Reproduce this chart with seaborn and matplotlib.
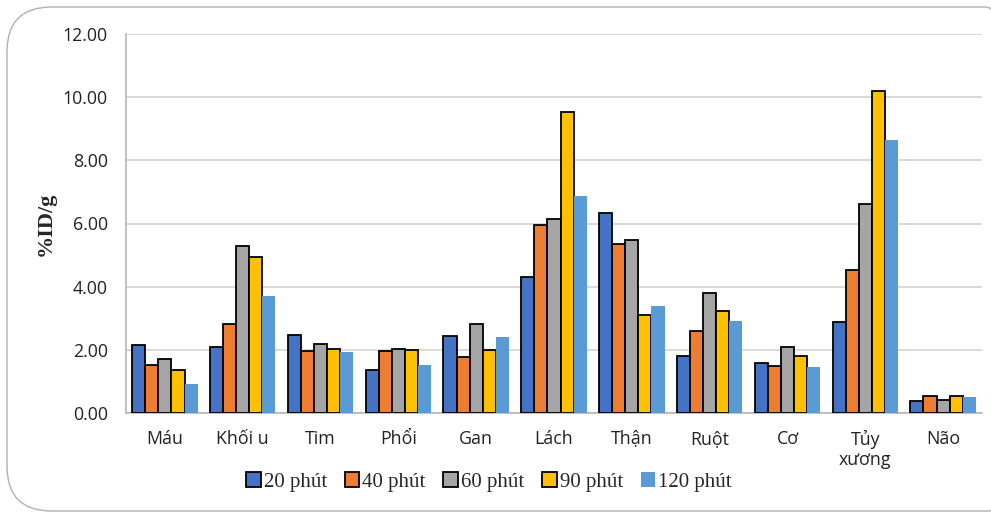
import matplotlib
matplotlib.use("Agg")
import matplotlib.pyplot as plt
from matplotlib.patches import FancyBboxPatch, Patch
import seaborn as sns
import pandas as pd

categories = ["Máu", "Khối u", "Tim", "Phổi", "Gan", "Lách", "Thận", "Ruột", "Cơ", "Tủy\nxương", "Não"]
series = ["20 phút", "40 phút", "60 phút", "90 phút", "120 phút"]
v20 = [2.15, 2.09, 2.47, 1.36, 2.44, 4.30, 6.32, 1.80, 1.58, 2.87, 0.37]
v40 = [1.52, 2.82, 1.96, 1.96, 1.77, 5.94, 5.36, 2.59, 1.50, 4.53, 0.53]
v60 = [1.71, 5.28, 2.18, 2.03, 2.82, 6.13, 5.47, 3.81, 2.10, 6.61, 0.41]
v90 = [1.36, 4.94, 2.03, 2.00, 2.00, 9.52, 3.11, 3.24, 1.81, 10.19, 0.55]
v120 = [0.92, 3.70, 1.92, 1.52, 2.40, 6.87, 3.38, 2.90, 1.45, 8.65, 0.52]
colors = ["#4472C4", "#ED7D31", "#A5A5A5", "#FFC000", "#5B9BD5"]
yticks = [0, 2, 4, 6, 8, 10, 12]

rows = []
for s, vals in zip(series, [v20, v40, v60, v90, v120]):
    for c, v in zip(categories, vals):
        rows.append({"organ": c, "time": s, "value": v})
df = pd.DataFrame(rows)

sns.set_style("white")
plt.rcParams["font.family"] = ["Open Sans", "DejaVu Sans"]

fig = plt.figure(figsize=(9.91, 5.15), dpi=100)
ax = fig.add_axes([126/991, 1-413/515, (982-126)/991, (413-34)/515])

sns.barplot(data=df, x="organ", y="value", hue="time", order=categories,
            hue_order=series, palette=colors, width=0.84, saturation=1,
            ax=ax, legend=False, zorder=3)

for i, cont in enumerate(ax.containers):
    for p in cont.patches:
        if i < 4:
            p.set_edgecolor("black")
            p.set_linewidth(1.3)
        else:
            p.set_edgecolor("none")

ax.set_ylim(0, 12)
ax.set_xlim(-0.5, len(categories) - 0.5)
ax.set_yticks(yticks)
ax.set_yticklabels([f"{t:.2f}" for t in yticks], fontsize=12.8, color="#222222")
ax.yaxis.grid(True, color="#d0d0d0", linewidth=1.1, zorder=0)
ax.set_axisbelow(True)
ax.tick_params(axis="x", which="major", length=0, pad=12, labelsize=12.8, labelcolor="#222222")
ax.set_xticks([i - 0.5 for i in range(len(categories) + 1)], minor=True)
ax.tick_params(axis="x", which="minor", length=6, color="#b0b0b0", width=1)
ax.tick_params(axis="y", length=5, color="#b0b0b0", width=1, pad=8)
ax.set_xlabel("")
ax.set_ylabel("%ID/g", fontsize=16, fontweight="bold", family="Liberation Serif", labelpad=5)
for s in ["top", "right"]:
    ax.spines[s].set_visible(False)
for s in ["left", "bottom"]:
    ax.spines[s].set_color("#b0b0b0")
    ax.spines[s].set_linewidth(1.1)

handles = []
for i, (s, c) in enumerate(zip(series, colors)):
    handles.append(Patch(facecolor=c, edgecolor="black" if i < 4 else c, linewidth=1.3 if i < 4 else 0, label=s))
leg = fig.legend(handles=handles, loc="center", bbox_to_anchor=(489/991, 1-482/515), ncol=5,
                 frameon=False, prop={"family": "Liberation Serif", "size": 15},
                 handlelength=0.7, handleheight=0.7, handletextpad=0.15, columnspacing=0.85)

frame = FancyBboxPatch((7/991, 4/515), (1030-7)/991, (512-8)/515,
                       boxstyle="round,pad=0,rounding_size=0.045",
                       transform=fig.transFigure, facecolor="none", edgecolor="#b0b0b0",
                       linewidth=1.0, mutation_aspect=991/515, clip_on=False)
fig.patches.append(frame)

fig.savefig("out.png", dpi=100)
